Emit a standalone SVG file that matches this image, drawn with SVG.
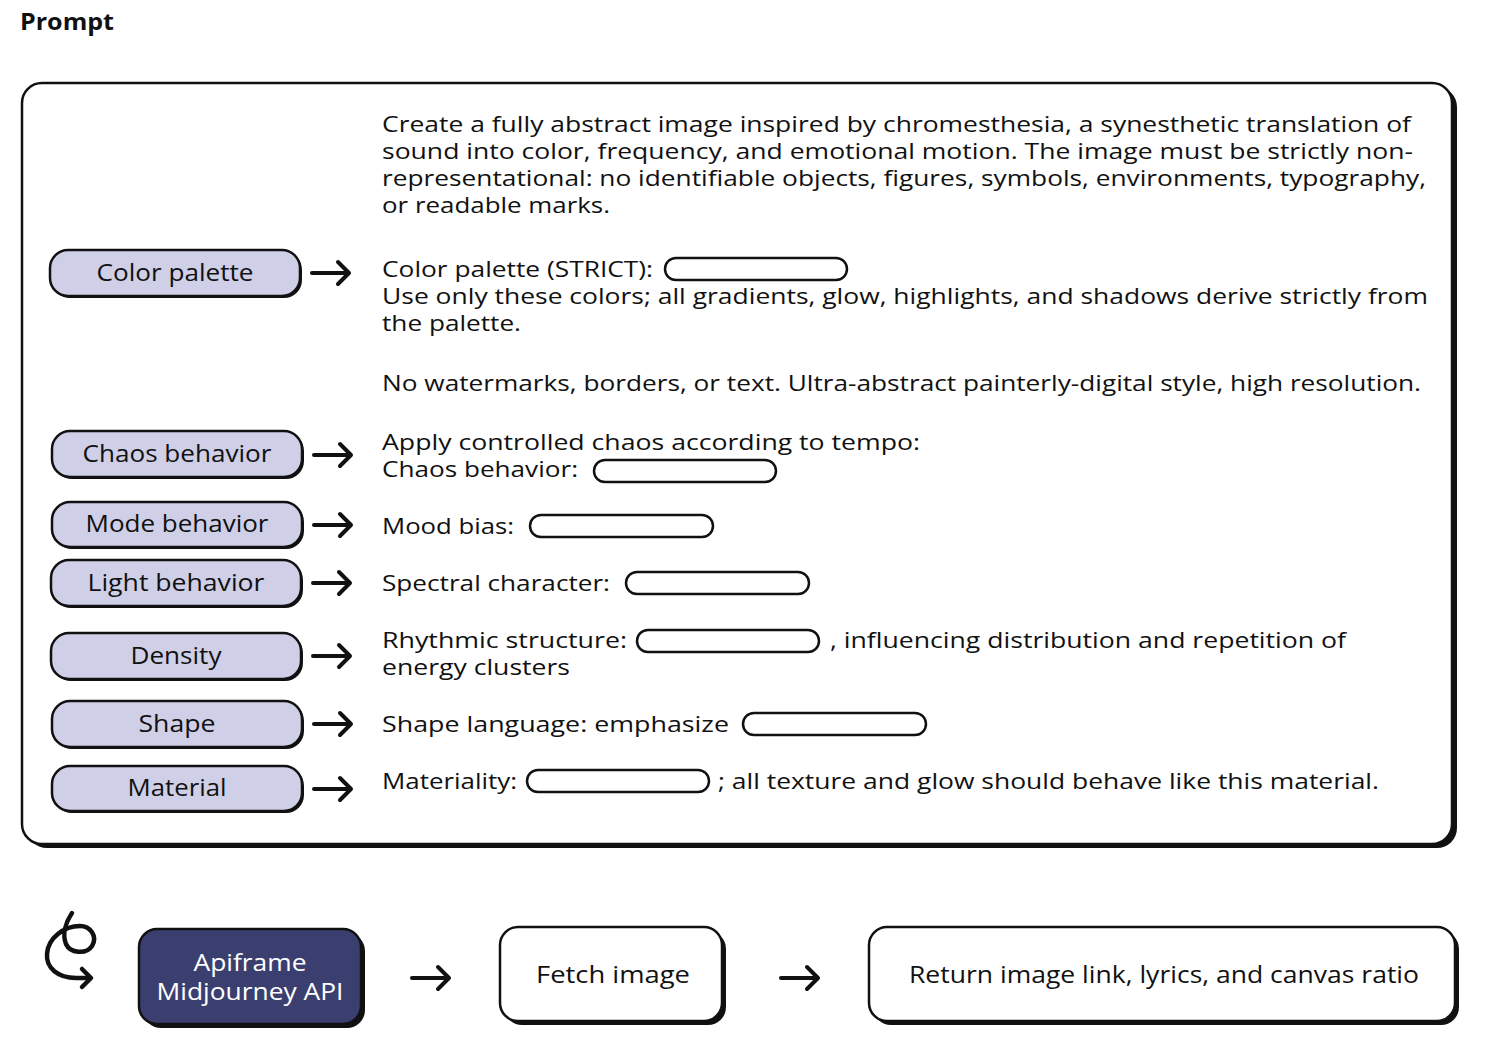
<svg xmlns="http://www.w3.org/2000/svg" width="1486" height="1054" viewBox="0 0 1486 1054">
<style>
text{font-family:"Open Sans","Liberation Sans",sans-serif;fill:#111;}
.t{font-size:22px;}
.lbl{font-size:23px;text-anchor:middle;}
.pill{fill:#CFCFE8;stroke:#111;stroke-width:2.5;}
.sh{fill:#111;}
.slot{fill:#fff;stroke:#111;stroke-width:2.5;}
.arr{fill:none;stroke:#111;stroke-width:4;stroke-linecap:round;stroke-linejoin:round;}
.box{fill:#fff;stroke:#111;stroke-width:2.5;}
</style>
<rect width="1486" height="1054" fill="#fff"/>
<text x="20" y="30" style="font-size:23px;font-weight:bold" textLength="94" lengthAdjust="spacingAndGlyphs">Prompt</text>

<g id="prompt-box">
<rect class="sh" x="27" y="87" width="1430" height="761" rx="20"/>
<rect class="box" x="22" y="83" width="1430" height="761" rx="20"/>
</g>

<g id="prompt-text">
<text class="t" x="382" y="132" textLength="1029" lengthAdjust="spacingAndGlyphs">Create a fully abstract image inspired by chromesthesia, a synesthetic translation of</text>
<text class="t" x="382" y="159" textLength="1031" lengthAdjust="spacingAndGlyphs">sound into color, frequency, and emotional motion. The image must be strictly non-</text>
<text class="t" x="382" y="186" textLength="1044" lengthAdjust="spacingAndGlyphs">representational: no identifiable objects, figures, symbols, environments, typography,</text>
<text class="t" x="382" y="213" textLength="228" lengthAdjust="spacingAndGlyphs">or readable marks.</text>
<text class="t" x="382" y="277" textLength="271" lengthAdjust="spacingAndGlyphs">Color palette (STRICT):</text>
<rect class="slot" x="665" y="258" width="182" height="22" rx="11"/>
<text class="t" x="382" y="304" textLength="1046" lengthAdjust="spacingAndGlyphs">Use only these colors; all gradients, glow, highlights, and shadows derive strictly from</text>
<text class="t" x="382" y="331" textLength="139" lengthAdjust="spacingAndGlyphs">the palette.</text>
<text class="t" x="382" y="391" textLength="1039" lengthAdjust="spacingAndGlyphs">No watermarks, borders, or text. Ultra-abstract painterly-digital style, high resolution.</text>
<text class="t" x="382" y="450" textLength="538" lengthAdjust="spacingAndGlyphs">Apply controlled chaos according to tempo:</text>
<text class="t" x="382" y="477" textLength="196" lengthAdjust="spacingAndGlyphs">Chaos behavior:</text>
<rect class="slot" x="594" y="460" width="182" height="22" rx="11"/>
<text class="t" x="382" y="534" textLength="132" lengthAdjust="spacingAndGlyphs">Mood bias:</text>
<rect class="slot" x="530" y="515" width="183" height="22" rx="11"/>
<text class="t" x="382" y="591" textLength="228" lengthAdjust="spacingAndGlyphs">Spectral character:</text>
<rect class="slot" x="626" y="572" width="183" height="22" rx="11"/>
<text class="t" x="382" y="648" textLength="245" lengthAdjust="spacingAndGlyphs">Rhythmic structure:</text>
<rect class="slot" x="637" y="630" width="182" height="22" rx="11"/>
<text class="t" x="830" y="648" textLength="516" lengthAdjust="spacingAndGlyphs">, influencing distribution and repetition of</text>
<text class="t" x="382" y="675" textLength="188" lengthAdjust="spacingAndGlyphs">energy clusters</text>
<text class="t" x="382" y="732" textLength="347" lengthAdjust="spacingAndGlyphs">Shape language: emphasize</text>
<rect class="slot" x="743" y="713" width="183" height="22" rx="11"/>
<text class="t" x="382" y="789" textLength="135" lengthAdjust="spacingAndGlyphs">Materiality:</text>
<rect class="slot" x="527" y="770" width="182" height="22" rx="11"/>
<text class="t" x="718" y="789" textLength="661" lengthAdjust="spacingAndGlyphs">; all texture and glow should behave like this material.</text>
</g>

<g id="n-color-palette">
<rect class="sh" x="52" y="252" width="250" height="46" rx="18"/>
<rect class="pill" x="50" y="250" width="250" height="46" rx="18"/>
<text class="lbl" x="175" y="281" textLength="157" lengthAdjust="spacingAndGlyphs">Color palette</text>
</g>
<g id="n-chaos">
<rect class="sh" x="54" y="433" width="250" height="46" rx="18"/>
<rect class="pill" x="52" y="431" width="250" height="46" rx="18"/>
<text class="lbl" x="177" y="462" textLength="189" lengthAdjust="spacingAndGlyphs">Chaos behavior</text>
</g>
<g id="n-mode">
<rect class="sh" x="54" y="504" width="250" height="45" rx="18"/>
<rect class="pill" x="52" y="502" width="250" height="45" rx="18"/>
<text class="lbl" x="177" y="532" textLength="183" lengthAdjust="spacingAndGlyphs">Mode behavior</text>
</g>
<g id="n-light">
<rect class="sh" x="53" y="562" width="250" height="46" rx="18"/>
<rect class="pill" x="51" y="560" width="250" height="46" rx="18"/>
<text class="lbl" x="176" y="591" textLength="177" lengthAdjust="spacingAndGlyphs">Light behavior</text>
</g>
<g id="n-density">
<rect class="sh" x="53" y="635" width="250" height="46" rx="18"/>
<rect class="pill" x="51" y="633" width="250" height="46" rx="18"/>
<text class="lbl" x="176" y="664" textLength="91" lengthAdjust="spacingAndGlyphs">Density</text>
</g>
<g id="n-shape">
<rect class="sh" x="54" y="703" width="250" height="46" rx="18"/>
<rect class="pill" x="52" y="701" width="250" height="46" rx="18"/>
<text class="lbl" x="177" y="732" textLength="77" lengthAdjust="spacingAndGlyphs">Shape</text>
</g>
<g id="n-material">
<rect class="sh" x="54" y="768" width="250" height="45" rx="18"/>
<rect class="pill" x="52" y="766" width="250" height="45" rx="18"/>
<text class="lbl" x="177" y="796" textLength="99" lengthAdjust="spacingAndGlyphs">Material</text>
</g>

<g id="loop-icon">
<path class="arr" style="stroke-width:4.5" d="M72 913 C66 922 62 934 66 944 C70 953 86 955 92 946 C98 936 90 926 80 926 C64 926 48 938 47 954 C46 968 58 978 76 978 L90 978"/>
<path class="arr" style="stroke-width:4.5" d="M82 969 L91 978 L82 987"/>
</g>

<g id="n-apiframe">
<rect class="sh" x="143" y="933" width="222" height="95" rx="18"/>
<rect x="139" y="929" width="222" height="95" rx="18" fill="#3B3F70" stroke="#111" stroke-width="2.5"/>
<text class="lbl" x="250" y="971" style="fill:#fff" textLength="113" lengthAdjust="spacingAndGlyphs">Apiframe</text>
<text class="lbl" x="250" y="1000" style="fill:#fff" textLength="187" lengthAdjust="spacingAndGlyphs">Midjourney API</text>
</g>
<g id="n-fetch">
<rect class="sh" x="504" y="931" width="222" height="94" rx="18"/>
<rect class="box" x="500" y="927" width="222" height="94" rx="18"/>
<text class="lbl" x="613" y="983" textLength="154" lengthAdjust="spacingAndGlyphs">Fetch image</text>
</g>
<g id="n-return">
<rect class="sh" x="873" y="931" width="586" height="94" rx="18"/>
<rect class="box" x="869" y="927" width="586" height="94" rx="18"/>
<text class="lbl" x="1164" y="983" textLength="510" lengthAdjust="spacingAndGlyphs">Return image link, lyrics, and canvas ratio</text>
</g>

<g id="connectors">
<path class="arr" d="M312 273 H348 M338 262 L349 273 L338 284"/>
<path class="arr" d="M314 455 H350 M340 444 L351 455 L340 466"/>
<path class="arr" d="M314 525 H350 M340 514 L351 525 L340 536"/>
<path class="arr" d="M313 583 H349 M339 572 L350 583 L339 594"/>
<path class="arr" d="M313 656 H349 M339 645 L350 656 L339 667"/>
<path class="arr" d="M314 724 H350 M340 713 L351 724 L340 735"/>
<path class="arr" d="M314 789 H350 M340 778 L351 789 L340 800"/>
<path class="arr" d="M412 978 H448 M438 967 L449 978 L438 989"/>
<path class="arr" d="M781 978 H817 M807 967 L818 978 L807 989"/>
</g>
</svg>
